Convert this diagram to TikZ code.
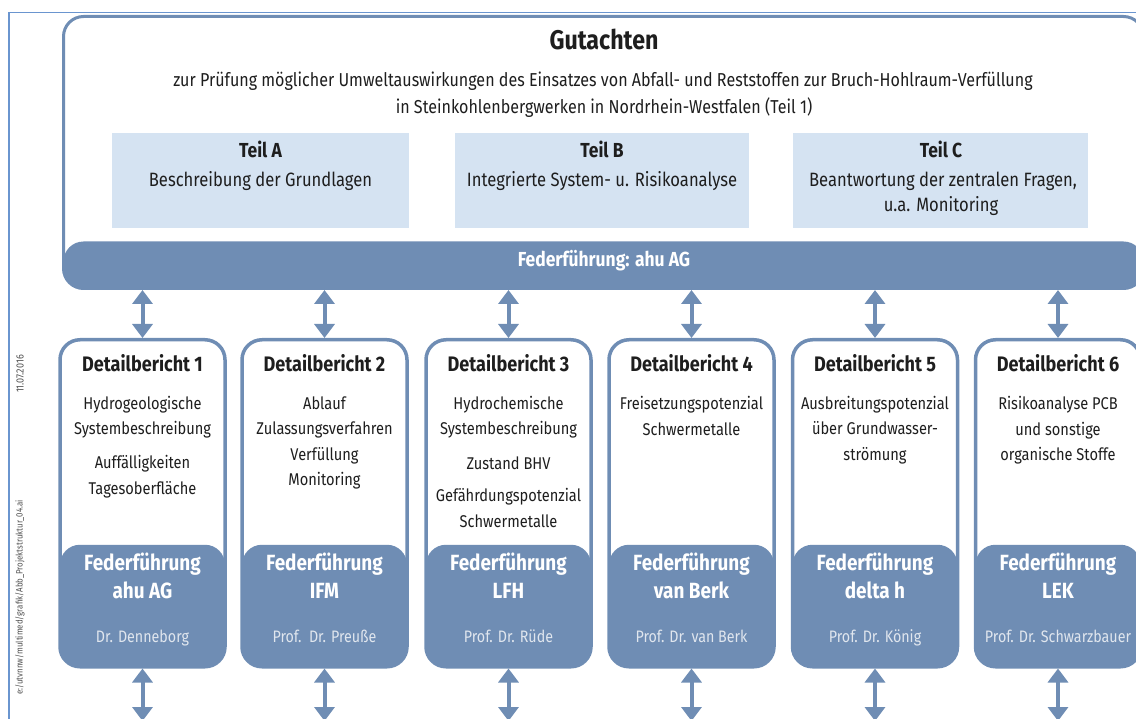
\documentclass[tikz,border=0pt]{standalone}
\usepackage{fontspec}
\setmainfont{Fira Sans}[FakeStretch=0.86]
\usetikzlibrary{arrows.meta}
\definecolor{bandc}{HTML}{6F8DB4}
\definecolor{teilc}{HTML}{D5E3F2}
\definecolor{framec}{HTML}{6A95CF}
\definecolor{txt}{HTML}{1E1E1E}
\definecolor{namec}{HTML}{E0E6EE}
\definecolor{pathc}{HTML}{505050}
\tikzset{
  mainbox/.style={draw=bandc, line width=3pt, fill=white, rounded corners=20pt,
    anchor=north west, inner sep=0pt, minimum width=1080pt, minimum height=272pt,
    path picture={\fill[bandc] ([yshift=47pt]path picture bounding box.south west) rectangle (path picture bounding box.south east);}},
  detbox/.style={draw=bandc, line width=3.5pt, fill=white, rounded corners=20pt,
    anchor=north, inner sep=0pt, minimum width=165pt, minimum height=327pt,
    path picture={\fill[bandc] ([yshift=122pt]path picture bounding box.south west) rectangle (path picture bounding box.south east);}},
  teilbox/.style={fill=teilc, anchor=north west, inner sep=0pt, minimum height=95pt},
  ln/.style={inner sep=0pt, text height=13pt, text depth=4pt, text=txt},
  title/.style={ln, font=\bfseries\fontsize{27}{27}\selectfont, text height=18pt, text depth=5pt},
  sub/.style={ln, font=\fontsize{18.7}{20}\selectfont},
  teilhead/.style={ln, font=\bfseries\fontsize{20.3}{21}\selectfont},
  teiltxt/.style={ln, font=\fontsize{19.3}{21}\selectfont},
  lead/.style={ln, text=white, font=\bfseries\fontsize{20.3}{21}\selectfont},
  dethead/.style={ln, font=\bfseries\fontsize{21}{22}\selectfont},
  dettxt/.style={ln, font=\fontsize{17}{20}\selectfont},
  bandhead/.style={ln, text=white, font=\bfseries\fontsize{22}{23}\selectfont},
  bandname/.style={ln, text=namec, font=\fontsize{16.6}{18}\selectfont},
  arr/.style={draw=bandc, line width=4pt, {Triangle[width=20pt,length=14pt]}-{Triangle[width=20pt,length=14pt]}},
  margintxt/.style={inner sep=0pt, text=pathc, rotate=90, font=\fontsize{10.5}{12}\selectfont}
}
\begin{document}
\begin{tikzpicture}[x=1pt,y=-1pt]
\useasboundingbox (0,0) rectangle (1136,719);
\clip (0,0) rectangle (1136,719);
% page frame
\draw[framec, line width=1.6pt] (9,725) -- (9,12.5) -- (1145,12.5);
\node[margintxt] (date) at (20,374) {11.07.2016};
\node[margintxt, anchor=east] (file) at (20,500) {\fontsize{9.2}{10}\selectfont e:/utvnnw/multimed/grafik/Abb\_Projektstruktur\_04.ai};

% main box
\node[mainbox] (main) at (62,15) {};
\node[title] (gut) at (604,43) {Gutachten};
\node[sub] (sub1) at (603,82) {zur Prüfung möglicher Umweltauswirkungen des Einsatzes von Abfall- und Reststoffen zur Bruch-Hohlraum-Verfüllung};
\node[sub] (sub2) at (604,109) {in Steinkohlenbergwerken in Nordrhein-Westfalen (Teil 1)};

\node[teilbox, minimum width=297pt] (ta) at (112,133) {};
\node[teilbox, minimum width=294pt] (tb) at (455,133) {};
\node[teilbox, minimum width=295pt] (tc) at (793,133) {};
\node[teilhead] (tah) at (260.5,153) {Teil A};
\node[teiltxt] (tat) at (260.5,182) {Beschreibung der Grundlagen};
\node[teilhead] (tbh) at (602,153) {Teil B};
\node[teiltxt] (tbt) at (602,182) {Integrierte System- u. Risikoanalyse};
\node[teilhead] (tch) at (941,153) {Teil C};
\node[teiltxt] (tct1) at (943,182) {Beantwortung der zentralen Fragen,};
\node[teiltxt] (tct2) at (941,207) {u.a. Monitoring};

\node[lead] (leadtxt) at (604,262) {Federführung: ahu AG};

% detail boxes
\foreach \i/\cx in {1/142.5,2/324.5,3/508.5,4/691.5,5/875,6/1058}{
  \node[detbox] (d\i) at (\cx,338) {};
  \node[dethead] (dh\i) at (\cx,367) {Detailbericht \i};
  \coordinate (low\i) at (\cx,721);
  \draw[arr] (main.south -| d\i.north) -- (d\i.north);
  \draw[arr] (d\i.south) -- (low\i);
}

% box 1
\node[dettxt] (a1) at (142.5,405) {Hydrogeologische};
\node[dettxt] (a2) at (142.5,430) {Systembeschreibung};
\node[dettxt] (a3) at (142.5,464) {Auffälligkeiten};
\node[dettxt] (a4) at (142.5,490) {Tagesoberfläche};
% box 2
\node[dettxt] (b1) at (324.5,405) {Ablauf};
\node[dettxt] (b2) at (324.5,430) {Zulassungsverfahren};
\node[dettxt] (b3) at (324.5,456) {Verfüllung};
\node[dettxt] (b4) at (324.5,481) {Monitoring};
% box 3
\node[dettxt] (c1) at (508.5,405) {Hydrochemische};
\node[dettxt] (c2) at (508.5,430) {Systembeschreibung};
\node[dettxt] (c3) at (508.5,465) {Zustand BHV};
\node[dettxt] (c4) at (508.5,497) {Gefährdungspotenzial};
\node[dettxt] (c5) at (508.5,523) {Schwermetalle};
% box 4
\node[dettxt] (e1) at (691.5,405) {Freisetzungspotenzial};
\node[dettxt] (e2) at (691.5,431) {Schwermetalle};
% box 5
\node[dettxt] (f1) at (875,405) {Ausbreitungspotenzial};
\node[dettxt] (f2) at (875,430) {über Grundwasser-};
\node[dettxt] (f3) at (875,456) {strömung};
% box 6
\node[dettxt] (g1) at (1058,405) {Risikoanalyse PCB};
\node[dettxt] (g2) at (1058,431) {und sonstige};
\node[dettxt] (g3) at (1058,456) {organische Stoffe};

% bands
\foreach \cx/\org/\nm [count=\i] in {142.5/ahu AG/Dr. Denneborg, 324.5/IFM/Prof.\ \ Dr. Preuße, 508.5/LFH/Prof. Dr. Rüde, 691.5/van Berk/Prof. Dr. van Berk, 875/delta h/Prof. Dr. König, 1058/LEK/Prof. Dr. Schwarzbauer}{
  \node[bandhead] (fh\i) at (\cx,566) {Federführung};
  \node[bandhead] (fo\i) at (\cx,594) {\org};
  \node[bandname] (fn\i) at (\cx,638) {\nm};
}
\end{tikzpicture}
\end{document}
